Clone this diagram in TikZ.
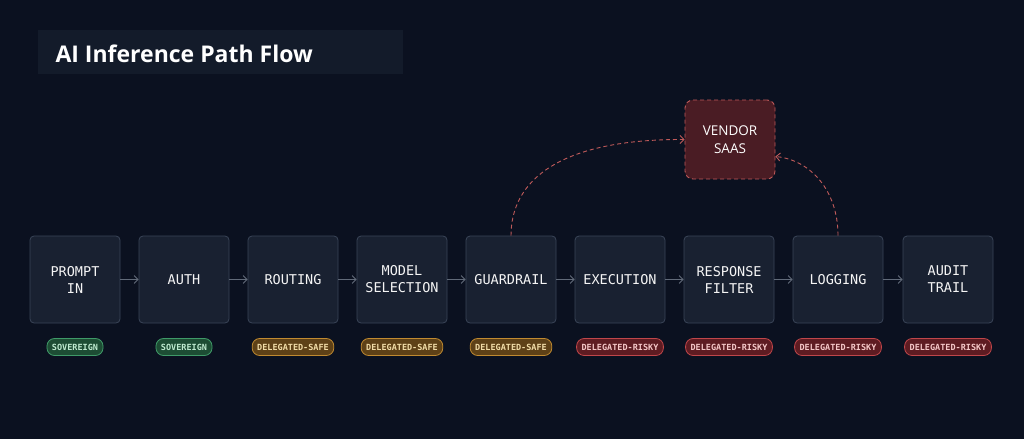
\documentclass[tikz,border=0pt]{standalone}
\usepackage{fontspec}
\setmainfont{Open Sans}
\newfontfamily\mono{DejaVu Sans Mono}
\usetikzlibrary{arrows.meta}
\definecolor{bg}{HTML}{0B1120}
\definecolor{boxf}{HTML}{192131}
\definecolor{boxd}{HTML}{3A4558}
\definecolor{gf}{HTML}{1D4D34}\definecolor{gd}{HTML}{3F9A68}\definecolor{gt}{HTML}{BFEBD0}
\definecolor{of}{HTML}{5E4117}\definecolor{od}{HTML}{C08A30}\definecolor{ot}{HTML}{F2DDA8}
\definecolor{rf}{HTML}{5E1C22}\definecolor{rd}{HTML}{C0464A}\definecolor{rt}{HTML}{F5C8C8}
\definecolor{vf}{HTML}{4A1C24}\definecolor{vd}{HTML}{C05A5A}
\begin{document}
\begin{tikzpicture}[x=1pt,y=-1pt,
 box/.style={draw=boxd,fill=boxf,rounded corners=4pt,minimum width=90pt,minimum height=87pt,line width=0.8pt,text=white!92!gray,font=\mono\fontsize{13.5}{17}\selectfont,align=center},
 pill/.style={rounded corners=7.5pt,line width=0.8pt,minimum height=17pt,inner xsep=5pt,inner ysep=0pt,font=\mono\bfseries\fontsize{8.5}{10}\selectfont},
 sov/.style={pill,draw=gd,fill=gf,text=gt},
 safe/.style={pill,draw=od,fill=of,text=ot},
 risky/.style={pill,draw=rd,fill=rf,text=rt},
 con/.style={draw=boxd!80!white,line width=0.8pt,-{Straight Barb[length=4pt,width=8pt]}},
 vlink/.style={draw=vd,line width=0.9pt,dash pattern=on 4pt off 3pt,-{Straight Barb[length=4pt,width=8pt]}}]
\fill[bg] (0,0) rectangle (1024,439);
\useasboundingbox (0,0) rectangle (1024,439);
\fill[boxf!60!bg] (38,30) rectangle (403,74);
\node[anchor=west,text=white,font=\fontsize{23}{27}\selectfont\bfseries] (title) at (52,54) {AI Inference Path Flow};
\foreach \n/\t/\x in {p/PROMPT\\IN/75,a/AUTH/184,r/ROUTING/293,m/MODEL\\SELECTION/402,g/GUARDRAIL/511,e/EXECUTION/620,f/RESPONSE\\FILTER/729,l/LOGGING/838,t/AUDIT\\TRAIL/948}
  \node[box] (\n) at (\x,279.5) {\t};
\foreach \a/\b in {p/a,a/r,r/m,m/g,g/e,e/f,f/l,l/t} \draw[con] (\a) -- (\b);
\node[sov] (s1) at (75,347) {SOVEREIGN};
\node[sov] (s2) at (184,347) {SOVEREIGN};
\node[safe] (s3) at (293,347) {DELEGATED-SAFE};
\node[safe] (s4) at (402,347) {DELEGATED-SAFE};
\node[safe] (s5) at (511,347) {DELEGATED-SAFE};
\node[risky] (s6) at (620,347) {DELEGATED-RISKY};
\node[risky] (s7) at (729,347) {DELEGATED-RISKY};
\node[risky] (s8) at (838,347) {DELEGATED-RISKY};
\node[risky] (s9) at (948,347) {DELEGATED-RISKY};
\node[draw=vd,fill=vf,dash pattern=on 4pt off 3pt,line width=0.9pt,rounded corners=8pt,minimum width=90pt,minimum height=79pt,align=center,text=white,font=\fontsize{13.5}{18}\selectfont] (v) at (730,139.5) {VENDOR\\SAAS};
\draw[vlink] (g.north) .. controls (511,180) and (560,139) .. (v.west);
\draw[vlink] (l.north) .. controls (838,190) and (810,160) .. ([yshift=-17pt]v.east);
\end{tikzpicture}
\end{document}
